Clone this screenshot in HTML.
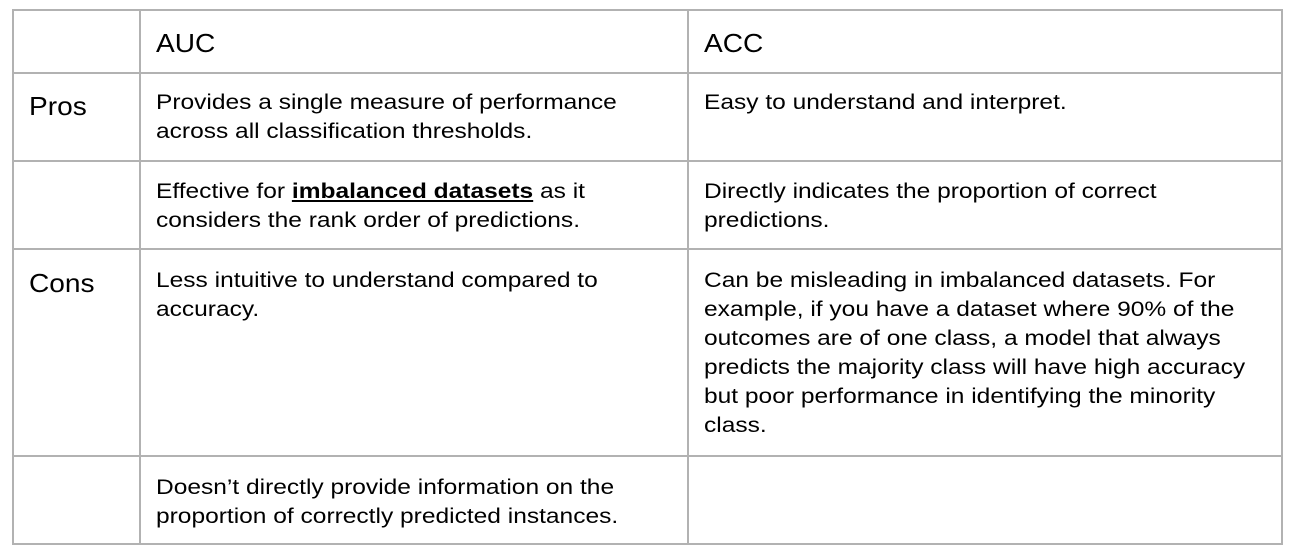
<!DOCTYPE html>
<html><head><meta charset="utf-8"><style>
body{margin:0;width:1291px;height:555px;background:#fff;position:relative;font-family:"Liberation Sans",Arial,sans-serif;color:#000;overflow:hidden}
.h{position:absolute;background:#b2b2b2}
.t{position:absolute;font-size:21px;line-height:29px;white-space:nowrap;transform:scaleX(1.168);transform-origin:0 0}
.b{position:absolute;font-size:26px;line-height:30px;white-space:nowrap;transform:scaleX(1.08);transform-origin:0 0}
</style></head><body>
<div class="h" style="left:13px;top:9px;width:1270px;height:2px"></div>
<div class="h" style="left:13px;top:72px;width:1270px;height:2px"></div>
<div class="h" style="left:13px;top:160px;width:1270px;height:2px"></div>
<div class="h" style="left:13px;top:248px;width:1270px;height:2px"></div>
<div class="h" style="left:13px;top:455px;width:1270px;height:2px"></div>
<div class="h" style="left:13px;top:543px;width:1270px;height:2px"></div>
<div class="h" style="left:12px;top:9px;width:2px;height:536px"></div>
<div class="h" style="left:139px;top:9px;width:2px;height:536px"></div>
<div class="h" style="left:687px;top:9px;width:2px;height:536px"></div>
<div class="h" style="left:1281px;top:9px;width:2px;height:536px"></div>

<div class="b" style="left:156px;top:28px">AUC</div>
<div class="b" style="left:704px;top:28px">ACC</div>
<div class="b" style="left:29px;top:91px">Pros</div>
<div class="b" style="left:29px;top:268px">Cons</div>

<div class="t" style="left:156px;top:88px">Provides a single measure of performance<br>across all classification thresholds.</div>
<div class="t" style="left:704px;top:88px">Easy to understand and interpret.</div>
<div class="t" style="left:156px;top:177px">Effective for <b><u>imbalanced datasets</u></b> as it<br>considers the rank order of predictions.</div>
<div class="t" style="left:704px;top:177px">Directly indicates the proportion of correct<br>predictions.</div>
<div class="t" style="left:156px;top:266px">Less intuitive to understand compared to<br>accuracy.</div>
<div class="t" style="left:704px;top:266px">Can be misleading in imbalanced datasets. For<br>example, if you have a dataset where 90% of the<br>outcomes are of one class, a model that always<br>predicts the majority class will have high accuracy<br>but poor performance in identifying the minority<br>class.</div>
<div class="t" style="left:156px;top:473px">Doesn’t directly provide information on the<br>proportion of correctly predicted instances.</div>
</body></html>
